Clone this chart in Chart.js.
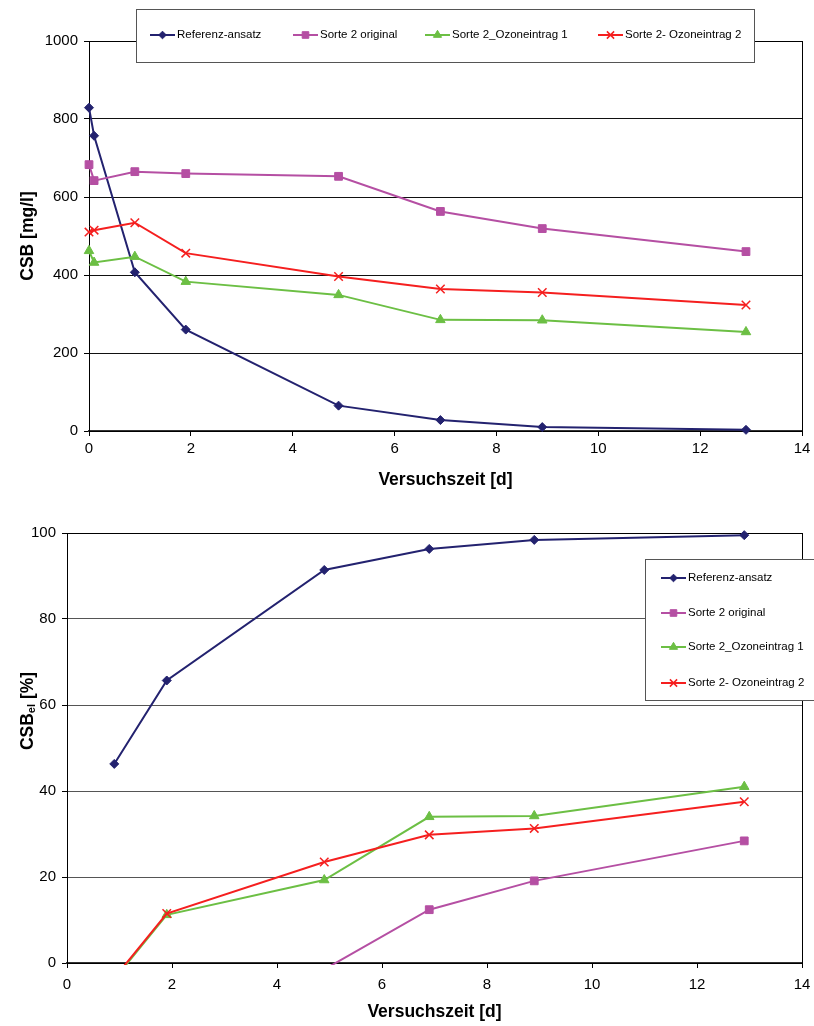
<!DOCTYPE html>
<html>
<head>
<meta charset="utf-8">
<script src="https://cdn.jsdelivr.net/npm/chart.js@4.4.0/dist/chart.umd.min.js"></script>
<style>
  body { margin: 0; background: #fff; }
  #top { position: absolute; left: 0; top: 0; width: 814px; height: 500px; }
  #bottom { position: absolute; left: 0; top: 500px; width: 814px; height: 526px; }
</style>
</head>
<body>
<div id="top"><canvas id="chartTop"></canvas></div>
<div id="bottom"><canvas id="chartBottom"></canvas></div>
<script>
// Versuchszeit [d]
var daysTop = [0, 0.1, 0.9, 1.9, 4.9, 6.9, 8.9, 12.9];
var daysBottom = [0.9, 1.9, 4.9, 6.9, 8.9, 12.9];
var seriesNames = ['Referenz-ansatz', 'Sorte 2 original', 'Sorte 2_Ozoneintrag 1', 'Sorte 2- Ozoneintrag 2'];

// CSB [mg/l]
var csbReferenz = [829, 757, 407, 260, 65, 28, 10, 3];
var csbOriginal = [683, 642, 665, 660, 653, 563, 519, 460];
var csbOzon1 = [462, 432, 447, 383, 349, 285, 284, 254];
var csbOzon2 = [510, 515, 534, 456, 396, 364, 355, 323];

// CSB_el [%]  (negative values get clipped at the axis like in the original)
var elReferenz = [46.3, 65.7, 91.4, 96.3, 98.4, 99.5];
var elOriginal = [-3.7, -3.0, -1.5, 12.4, 19.1, 28.4];
var elOzon1 = [-3.8, 11.2, 19.3, 34.0, 34.2, 41.0];
var elOzon2 = [-3.5, 11.5, 23.5, 29.8, 31.3, 37.5];

var FONT = '"Liberation Sans", Arial, sans-serif';
var TICK = 15, TITLE = 17.5, LEG = 11.5;
var colors = ['#23226f', '#b54fa3', '#6cbf44', '#f51f1f'];
var styles = ['rectRot', 'rect', 'triangle', 'crossRot'];
var radii = [4.5, 5.5, 5.5, 6];

function series(i, days, values, clipBottom) {
  return {
    label: seriesNames[i],
    data: days.map(function (d, k) { return {x: d, y: values[k]}; }),
    borderColor: colors[i],
    backgroundColor: colors[i],
    pointBackgroundColor: colors[i],
    pointBorderColor: colors[i],
    pointStyle: styles[i],
    pointRadius: radii[i],
    pointHoverRadius: radii[i],
    pointBorderWidth: styles[i] == 'crossRot' ? 1.5 : 1,
    borderWidth: 2,
    tension: 0,
    order: 4 - i,
    clip: {left: 8, right: 8, top: 8, bottom: clipBottom}
  };
}

function xAxis(tickPad, titlePad, height) {
  return {
    type: 'linear', min: 0, max: 14,
    ticks: {stepSize: 2, color: '#000', padding: tickPad, maxRotation: 0, font: {size: TICK, family: FONT}},
    grid: {drawOnChartArea: false, drawTicks: true, tickLength: 5, color: '#000'},
    border: {color: '#333', width: 2},
    title: {display: true, text: 'Versuchszeit [d]', color: '#000',
            font: {size: TITLE, weight: 'bold', family: FONT}, padding: {top: 0, bottom: titlePad}},
    afterFit: function (s) { s.height = height; s.paddingLeft = 4; s.paddingRight = 4; }
  };
}

function yAxis(max, step, gridColor, title, width) {
  return {
    min: 0, max: max,
    ticks: {stepSize: step, color: '#000', padding: 6, font: {size: TICK, family: FONT},
            callback: function (v) { return String(v); }},
    grid: {color: gridColor, tickLength: 5, tickColor: '#000'},
    border: {color: '#000', width: 1},
    title: title ? {display: true, text: title, color: '#000',
                    font: {size: TITLE, weight: 'bold', family: FONT}, padding: {top: 18, bottom: 0}}
                 : {display: false},
    afterFit: function (s) { s.width = width; }
  };
}

// black frame around the plot area
var plotFrame = {
  id: 'plotFrame',
  beforeDatasetsDraw: function (chart) {
    var a = chart.chartArea, ctx = chart.ctx;
    ctx.save();
    ctx.strokeStyle = '#000';
    ctx.lineWidth = 1;
    ctx.strokeRect(Math.round(a.left) + 0.5, Math.round(a.top) + 0.5,
                   Math.round(a.right - a.left), Math.round(a.bottom - a.top));
    ctx.restore();
  }
};

// excel style legend: line with marker, inside a white box
var boxLegend = {
  id: 'boxLegend',
  afterDraw: function (chart, args, opts) {
    var ctx = chart.ctx, b = opts.box;
    ctx.save();
    ctx.fillStyle = '#fff';
    ctx.fillRect(b[0], b[1], b[2], b[3]);
    ctx.strokeStyle = '#555';
    ctx.lineWidth = 1;
    ctx.strokeRect(b[0] + 0.5, b[1] + 0.5, b[2], b[3]);
    chart.data.datasets.forEach(function (ds, i) {
      var p = opts.items[i];
      ctx.strokeStyle = ds.borderColor;
      ctx.lineWidth = 2;
      ctx.beginPath();
      ctx.moveTo(p[0], p[1]);
      ctx.lineTo(p[0] + 25, p[1]);
      ctx.stroke();
      ctx.fillStyle = ds.pointBackgroundColor;
      ctx.lineWidth = ds.pointBorderWidth;
      Chart.helpers.drawPoint(ctx, {pointStyle: ds.pointStyle, radius: ds.pointRadius * 0.85,
                                    borderWidth: ds.pointBorderWidth, rotation: 0}, p[0] + 12.5, p[1]);
      ctx.fillStyle = '#000';
      ctx.font = LEG + 'px ' + FONT;
      ctx.textBaseline = 'middle';
      ctx.textAlign = 'left';
      ctx.fillText(ds.label, p[0] + 27, p[1]);
    });
    ctx.restore();
  }
};

// y title with subscript (CSB_el [%])
var subTitle = {
  id: 'subTitle',
  afterDraw: function (chart, args, opts) {
    if (!opts.pos) return;
    var ctx = chart.ctx;
    ctx.save();
    ctx.translate(opts.pos[0], opts.pos[1]);
    ctx.rotate(-Math.PI / 2);
    ctx.fillStyle = '#000';
    ctx.textBaseline = 'middle';
    ctx.textAlign = 'left';
    var big = 'bold ' + TITLE + 'px ' + FONT, small = 'bold 11px ' + FONT;
    ctx.font = big;
    var w1 = ctx.measureText('CSB').width;
    ctx.font = small;
    var w2 = ctx.measureText('el').width;
    ctx.font = big;
    var w3 = ctx.measureText(' [%]').width;
    var x = -(w1 + w2 + w3) / 2;
    ctx.fillText('CSB', x, 0);
    ctx.font = small;
    ctx.fillText('el', x + w1, 4);
    ctx.font = big;
    ctx.fillText(' [%]', x + w1 + w2, 0);
    ctx.restore();
  }
};

new Chart(document.getElementById('chartTop'), {
  type: 'line',
  data: {datasets: [
    series(0, daysTop, csbReferenz, 5),
    series(1, daysTop, csbOriginal, 5),
    series(2, daysTop, csbOzon1, 5),
    series(3, daysTop, csbOzon2, 5)
  ]},
  options: {
    responsive: true, maintainAspectRatio: false, animation: false,
    layout: {padding: {top: 41, right: 12, left: 0, bottom: 0}},
    scales: {
      x: xAxis(4, 9.5, 69),
      y: yAxis(1000, 200, '#111', 'CSB [mg/l]', 89)
    },
    plugins: {
      legend: {display: false},
      tooltip: {enabled: false},
      boxLegend: {box: [136, 9, 618, 53], items: [[150, 35], [293, 35], [425, 35], [598, 35]]}
    }
  },
  plugins: [plotFrame, boxLegend, subTitle]
});

new Chart(document.getElementById('chartBottom'), {
  type: 'line',
  data: {datasets: [
    series(0, daysBottom, elReferenz, 2),
    series(1, daysBottom, elOriginal, 2),
    series(2, daysBottom, elOzon1, 2),
    series(3, daysBottom, elOzon2, 2)
  ]},
  options: {
    responsive: true, maintainAspectRatio: false, animation: false,
    layout: {padding: {top: 33, right: 12, left: 0, bottom: 0}},
    scales: {
      x: xAxis(8, 3.5, 63),
      y: yAxis(100, 20, '#555', null, 67)
    },
    plugins: {
      legend: {display: false},
      tooltip: {enabled: false},
      boxLegend: {box: [645, 59, 175, 141], items: [[661, 78], [661, 113], [661, 147], [661, 183]]},
      subTitle: {pos: [28, 211]}
    }
  },
  plugins: [plotFrame, boxLegend, subTitle]
});
</script>
</body>
</html>
